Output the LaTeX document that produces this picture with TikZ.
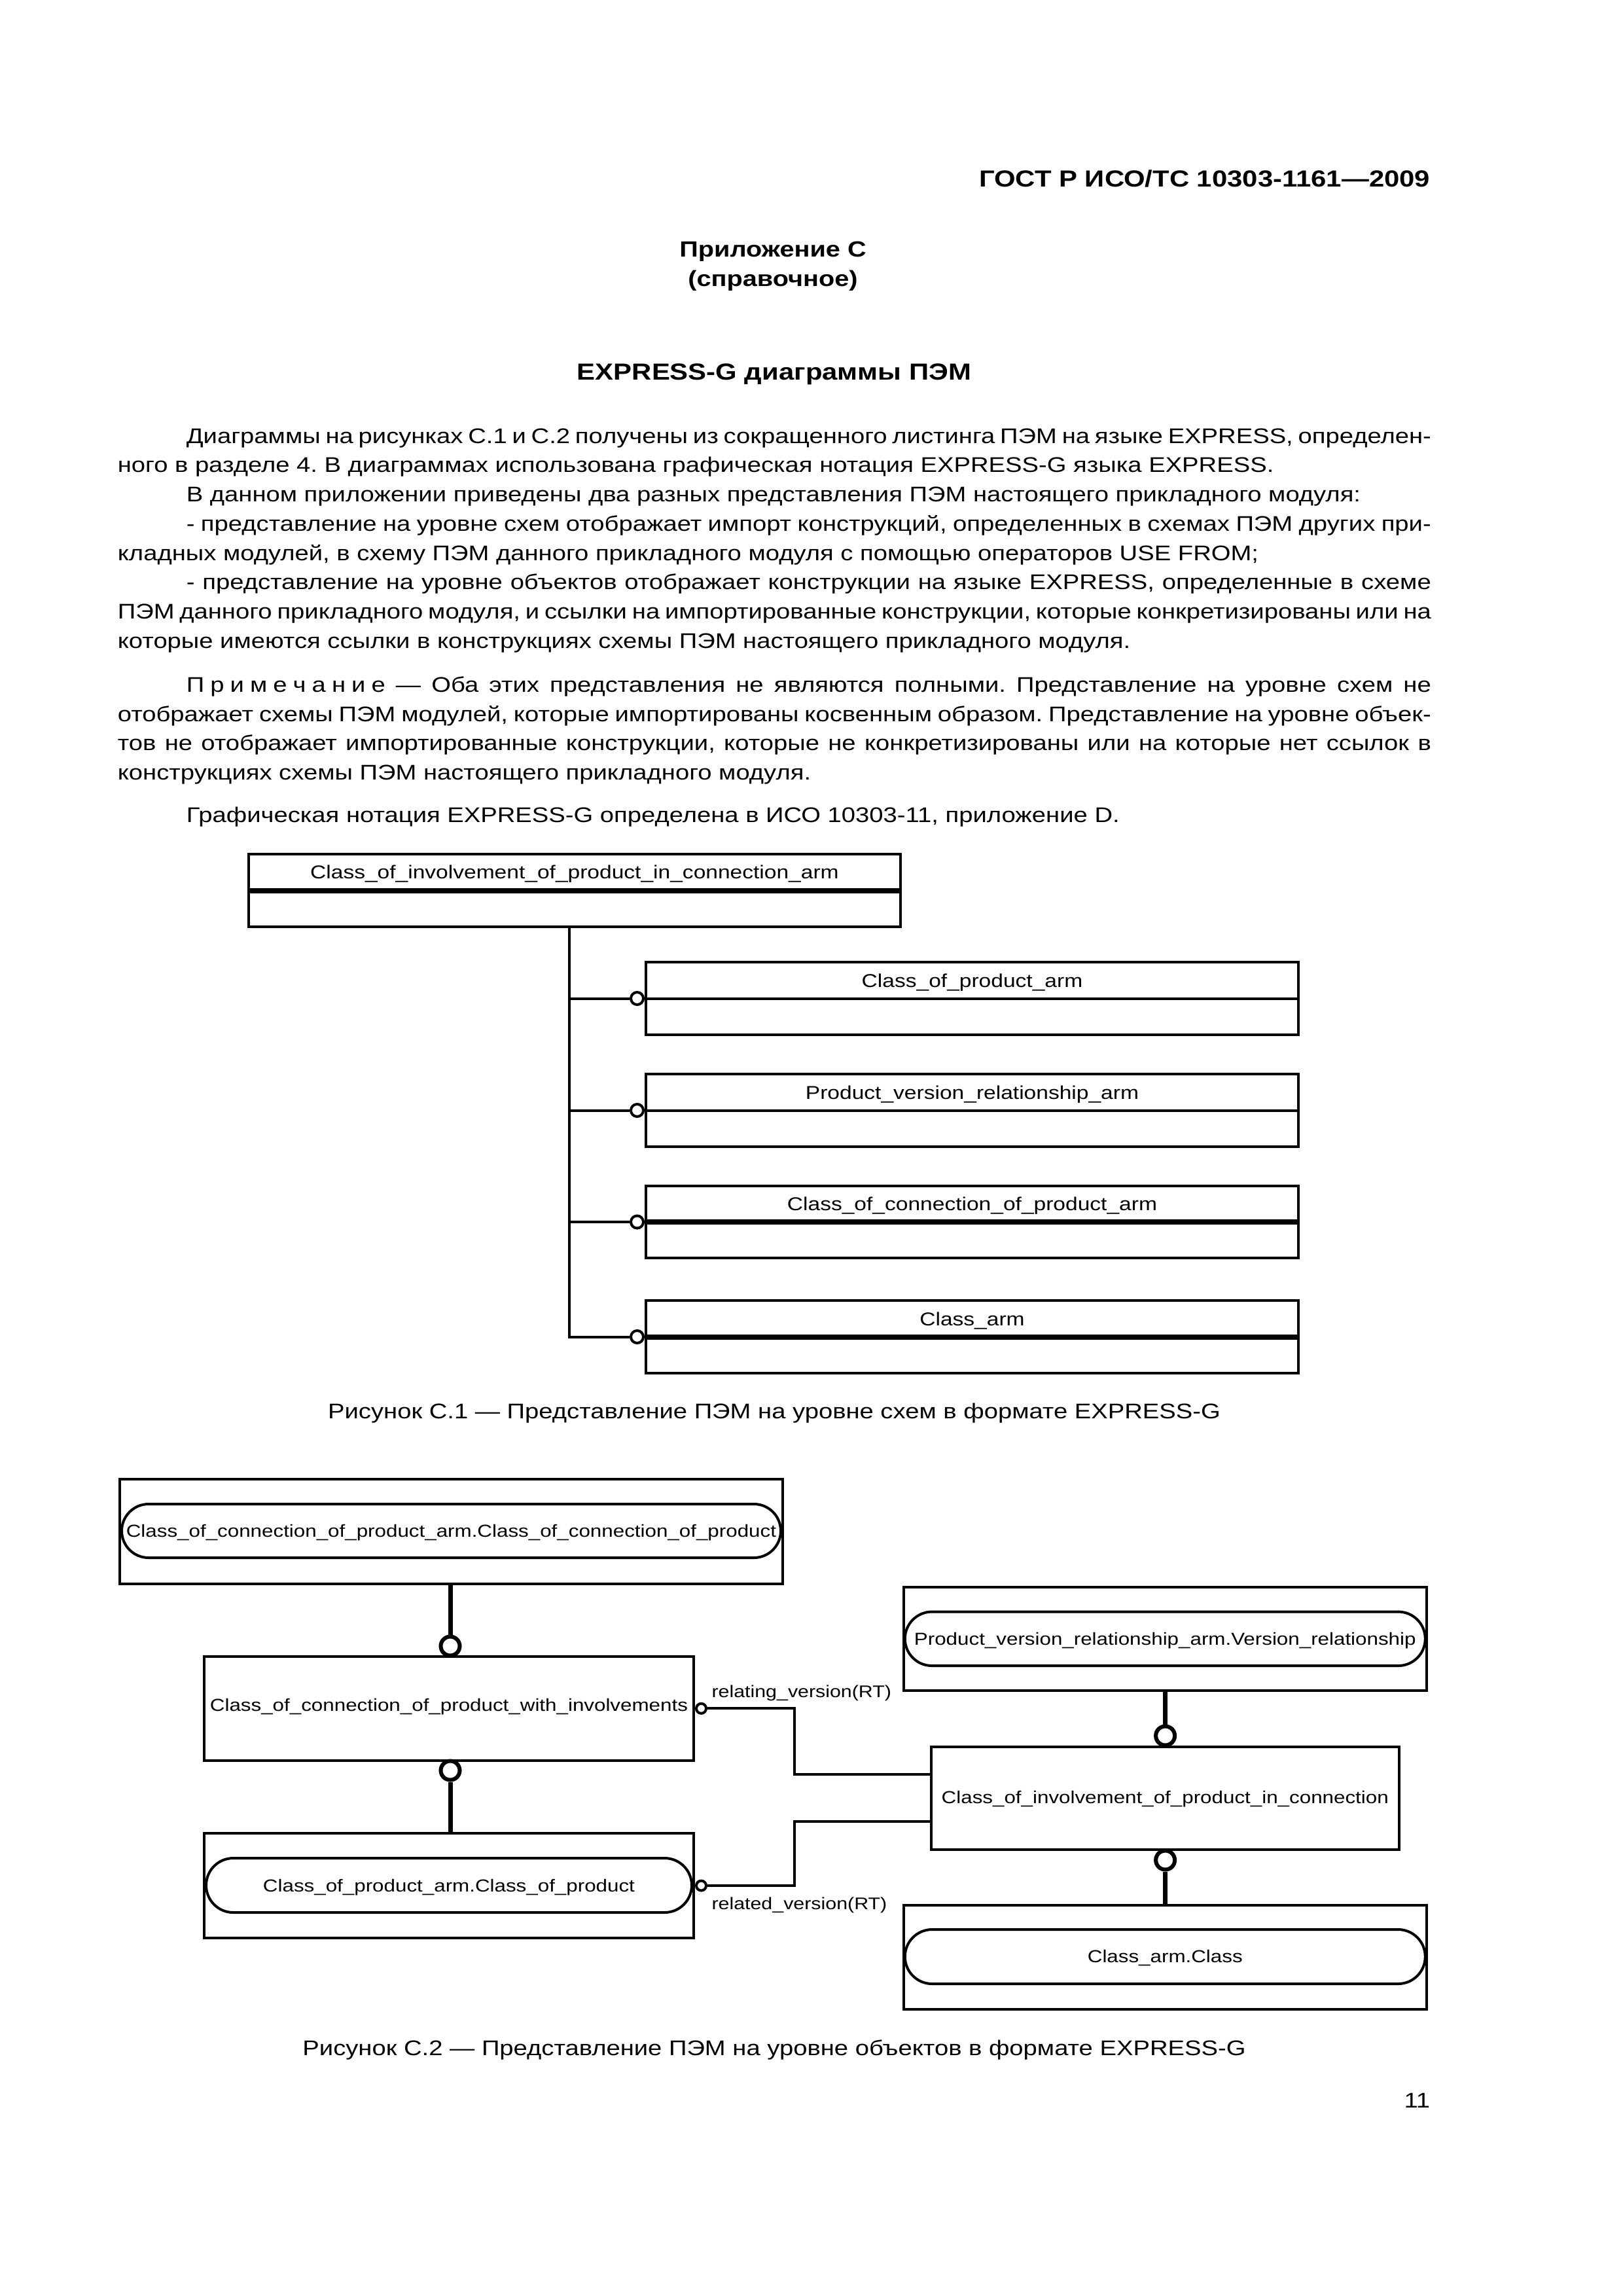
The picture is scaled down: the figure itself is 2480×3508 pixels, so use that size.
\documentclass[tikz,border=0pt]{standalone}
\usepackage{fontspec}
\setmainfont[FakeStretch=1.18]{Liberation Sans}
\usetikzlibrary{shapes.misc}
\frenchspacing
\newlength\pxu
\setlength\pxu{0.0846667mm}
\newcommand\bodyf{\fontsize{7.8}{9.4}\selectfont}
\newcommand\hdf{\fontsize{8.55}{10.4}\selectfont\bfseries}
\newcommand\hdsf{\fontsize{8.1}{10}\selectfont\bfseries}
\newcommand\cfont{\fontsize{6.85}{8}\selectfont}
\newcommand\dfont{\fontsize{6.4}{7.6}\selectfont}
\newcommand\lfont{\fontsize{6.2}{7.4}\selectfont}
\newcommand\ls{\kern.28em}
\tikzset{
  every node/.style={inner sep=0pt},
  ln/.style={line width=0.96pt},
  thk/.style={line width=1.93pt},
  bl/.style={line width=1.69pt},
  ebox/.style 2 args={draw, line width=0.96pt, minimum width=#1*\pxu, minimum height=#2*\pxu},
  pill/.style 2 args={rounded rectangle, draw, line width=0.96pt, minimum width=#1*\pxu, minimum height=#2*\pxu},
  oc/.style={circle, draw, fill=white, line width=0.96pt, minimum size=19*\pxu},
  sc/.style={circle, draw, fill=white, line width=0.96pt, minimum size=15*\pxu},
  bc/.style={circle, draw, fill=white, line width=1.45pt, minimum size=29*\pxu},
  body/.style={font=\bodyf, anchor=mid west},
}
\begin{document}
\begin{tikzpicture}[x=0.0846667mm, y=-0.0846667mm]
\fill[white] (0,0) rectangle (2480,3508);
\useasboundingbox (0,0) rectangle (2480,3508);

% header and headings
\node[font=\hdf, anchor=base east] (hd) at (2186,285) {ГОСТ Р ИСО/ТС 10303-1161—2009};
\node[font=\hdsf, anchor=base] (app) at (1181,392) {Приложение С};
\node[font=\hdsf, anchor=base] (spr) at (1181,437) {(справочное)};
\node[font=\hdf, anchor=base] (ttl) at (1183,580) {EXPRESS-G диаграммы ПЭМ};

% body text
\node[body] (l1) at (284,667) {\makebox[1902\pxu][s]{Диаграммы на рисунках С.1 и С.2 получены из сокращенного листинга ПЭМ на языке EXPRESS, определен-}};
\node[body] (l2) at (179,711) {ного в разделе 4. В диаграммах использована графическая нотация EXPRESS-G языка EXPRESS.};
\node[body] (l3) at (284,756) {В данном приложении приведены два разных представления ПЭМ настоящего прикладного модуля:};
\node[body] (l4) at (284,801) {\makebox[1902\pxu][s]{- представление на уровне схем отображает импорт конструкций, определенных в схемах ПЭМ других при-}};
\node[body] (l5) at (179,846) {кладных модулей, в схему ПЭМ данного прикладного модуля с помощью операторов USE FROM;};
\node[body] (l6) at (284,890) {\makebox[1902\pxu][s]{- представление на уровне объектов отображает конструкции на языке EXPRESS, определенные в схеме}};
\node[body] (l7) at (179,935) {\makebox[2007\pxu][s]{ПЭМ данного прикладного модуля, и ссылки на импортированные конструкции, которые конкретизированы или на}};
\node[body] (l8) at (179,980) {которые имеются ссылки в конструкциях схемы ПЭМ настоящего прикладного модуля.};
\node[body] (l9) at (284,1047) {\makebox[1902\pxu][s]{П\ls р\ls и\ls м\ls е\ls ч\ls а\ls н\ls и\ls е — Оба этих представления не являются полными. Представление на уровне схем не}};
\node[body] (l10) at (179,1092) {\makebox[2007\pxu][s]{отображает схемы ПЭМ модулей, которые импортированы косвенным образом. Представление на уровне объек-}};
\node[body] (l11) at (179,1136) {\makebox[2007\pxu][s]{тов не отображает импортированные конструкции, которые не конкретизированы или на которые нет ссылок в}};
\node[body] (l12) at (179,1181) {конструкциях схемы ПЭМ настоящего прикладного модуля.};
\node[body] (l13) at (284,1246) {Графическая нотация EXPRESS-G определена в ИСО 10303-11, приложение D.};

% ---------- Figure C.1 ----------
\node[ebox={996}{111}] (T) at (878,1360.5) {};
\node[font=\cfont, anchor=base] (Tt) at (878,1342.5) {Class\_of\_involvement\_of\_product\_in\_connection\_arm};
\draw[thk] (T.west) -- (T.east);

\node[ebox={997}{111}] (B1) at (1485.5,1525.5) {};
\node[font=\cfont, anchor=base] (B1t) at (1485.5,1508) {Class\_of\_product\_arm};
\draw[ln] (B1.west) -- (B1.east);

\node[ebox={997}{111}] (B2) at (1485.5,1696.5) {};
\node[font=\cfont, anchor=base] (B2t) at (1485.5,1679) {Product\_version\_relationship\_arm};
\draw[ln] (B2.west) -- (B2.east);

\node[ebox={997}{110}] (B3) at (1485.5,1867) {};
\node[font=\cfont, anchor=base] (B3t) at (1485.5,1849.5) {Class\_of\_connection\_of\_product\_arm};
\draw[thk] (B3.west) -- (B3.east);

\node[ebox={997}{111}] (B4) at (1485.5,2042.5) {};
\node[font=\cfont, anchor=base] (B4t) at (1485.5,2025) {Class\_arm};
\draw[thk] (B4.west) -- (B4.east);

\coordinate (sp) at (870,1416);
\node[oc, anchor=east] (c1) at (B1.west) {};
\node[oc, anchor=east] (c2) at (B2.west) {};
\node[oc, anchor=east] (c3) at (B3.west) {};
\node[oc, anchor=east] (c4) at (B4.west) {};
\draw[ln] (sp |- T.south) -- (sp |- c4) -- (c4.west);
\draw[ln] (sp |- c1) -- (c1.west);
\draw[ln] (sp |- c2) -- (c2.west);
\draw[ln] (sp |- c3) -- (c3.west);

\node[font=\bodyf, anchor=base] (cap1) at (1183,2167) {Рисунок С.1 — Представление ПЭМ на уровне схем в формате EXPRESS-G};

% ---------- Figure C.2 ----------
\node[ebox={1013}{160}] (A) at (689.5,2340) {};
\node[pill={1007}{82}] (Ap) at (689.5,2339) {};
\node[font=\dfont, anchor=base] (At) at (689.5,2348.5) {Class\_of\_connection\_of\_product\_arm.Class\_of\_connection\_of\_product};

\node[ebox={748}{159.4}] (B) at (686,2610.3) {};
\node[font=\dfont, anchor=base] (Bt) at (686,2614) {Class\_of\_connection\_of\_product\_with\_involvements};

\node[ebox={748}{160}] (C) at (686,2881) {};
\node[pill={742}{83}] (Cp) at (686,2880.5) {};
\node[font=\dfont, anchor=base] (Ct) at (686,2890) {Class\_of\_product\_arm.Class\_of\_product};

\node[ebox={799.4}{158.4}] (E) at (1780.3,2503.8) {};
\node[pill={795}{82.5}] (Ep) at (1780.3,2503.8) {};
\node[font=\dfont, anchor=base] (Et) at (1780.3,2513) {Product\_version\_relationship\_arm.Version\_relationship};

\node[ebox={715.4}{157.3}] (F) at (1780.3,2747.4) {};
\node[font=\dfont, anchor=base] (Ft) at (1780.3,2755.5) {Class\_of\_involvement\_of\_product\_in\_connection};

\node[ebox={799.4}{158.6}] (G) at (1780.3,2990.3) {};
\node[pill={795}{83}] (Gp) at (1780.3,2989.5) {};
\node[font=\dfont, anchor=base] (Gt) at (1780.3,2998.5) {Class\_arm.Class};

\node[bc] (o1) at (688,2515) {};
\node[bc] (o2) at (688,2705) {};
\node[bc] (o3) at (1780.6,2652) {};
\node[bc] (o4) at (1780.6,2842) {};
\draw[bl] (o1 |- A.south) -- (o1.north);
\draw[bl] (o2.south) -- (o2 |- C.north);
\draw[bl] (o3 |- E.south) -- (o3.north);
\draw[bl] (o4.south) -- (o4 |- G.north);

\node[sc, anchor=west] (rc1) at (B.east) {};
\node[sc, anchor=west] (rc2) at (C.east) {};
\coordinate (jn) at (1214,2700);
\draw[ln] (rc1.east) -- (jn |- rc1.east) |- ([yshift=8.67pt]F.west);
\draw[ln] (rc2.east) -- (jn |- rc2.east) |- ([yshift=-8.67pt]F.west);
\node[font=\lfont, anchor=base west] (lb1) at (1086.7,2593.3) {relating\_version(RT)};
\node[font=\lfont, anchor=base west] (lb2) at (1086.7,2917.3) {related\_version(RT)};

\node[font=\bodyf, anchor=base] (cap2) at (1183,3140) {Рисунок С.2 — Представление ПЭМ на уровне объектов в формате EXPRESS-G};
\node[font=\bodyf, anchor=base east] (pg) at (2186,3220) {11};
\end{tikzpicture}
\end{document}
